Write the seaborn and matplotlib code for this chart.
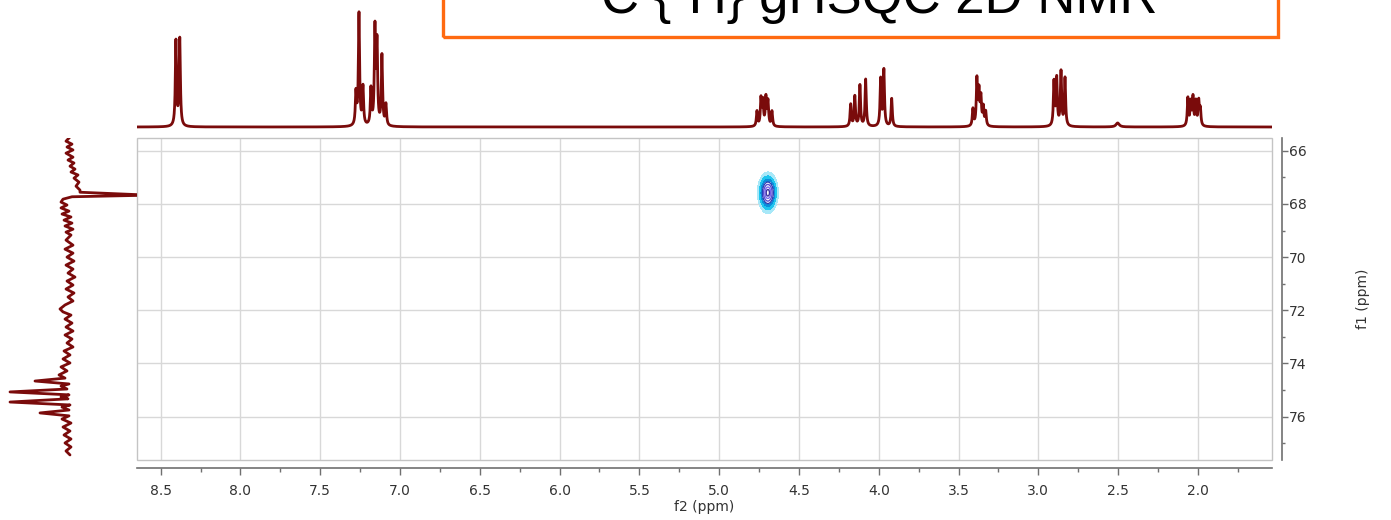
import numpy as np
import pandas as pd
import matplotlib
matplotlib.use("Agg")
import matplotlib.pyplot as plt
from matplotlib.patches import Rectangle
from matplotlib.ticker import MultipleLocator, FormatStrFormatter
import seaborn as sns

# ---------------------------------------------------------------------------
# 1H projection along f2: line positions (ppm), heights (a.u.), half widths
# ---------------------------------------------------------------------------
h_shift = [8.404, 8.380,
           7.276, 7.257, 7.232, 7.182, 7.157, 7.144, 7.113, 7.088,
           4.763, 4.738, 4.726, 4.707, 4.694, 4.669,
           4.176, 4.150, 4.118, 4.082,
           3.988, 3.968, 3.919,
           3.410, 3.385, 3.372, 3.360, 3.345, 3.330,
           2.902, 2.885, 2.858, 2.833,
           2.503,
           2.063, 2.045, 2.031, 2.013, 1.995, 1.985]
h_height = [85, 87,
            32, 112, 38, 36, 95, 80, 70, 21,
            15, 27, 24, 28, 24, 15,
            22, 30, 41, 47,
            47, 56, 28,
            17, 46, 33, 27, 18, 14,
            44, 47, 54, 48,
            4,
            28, 23, 28, 24, 24, 16]
h_hwhm = [0.0045] * 33 + [0.012] + [0.0045] * 6

# ---------------------------------------------------------------------------
# 13C projection along f1: trace read as (ppm, intensity) pairs
# ---------------------------------------------------------------------------
c_ppm = [65.48, 65.64, 65.75, 65.86, 65.97, 66.09, 66.24, 66.35, 66.46, 66.58,
         66.69, 66.80, 66.91, 67.03, 67.18, 67.33, 67.48, 67.56, 67.67, 67.73,
         67.82, 67.93, 68.04, 68.15, 68.27, 68.38, 68.49, 68.61, 68.72, 68.83,
         68.95, 69.06, 69.17, 69.36, 69.55, 69.70, 69.85, 70.00, 70.15, 70.30,
         70.45, 70.60, 70.75, 70.90, 71.05, 71.20, 71.35, 71.50, 71.65, 71.80,
         71.95, 72.06, 72.18, 72.33, 72.48, 72.63, 72.78, 72.93, 73.08, 73.23,
         73.38, 73.53, 73.68, 73.83, 73.98, 74.13, 74.28, 74.43, 74.55, 74.66,
         74.77, 74.85, 74.96, 75.07, 75.18, 75.26, 75.33, 75.45, 75.56, 75.64,
         75.75, 75.86, 75.97, 76.09, 76.24, 76.39, 76.54, 76.69, 76.84, 76.99,
         77.14, 77.29, 77.44]
c_int = [5, 1, 7, 2, 8, 1, 8, 3, 9, 5,
         10, 6, 13, 9, 14, 11, 15, 15, 85, 7,
         -2, -4, 2, -4, 4, -3, 6, -1, 7, 0,
         8, 1, 6, 1, 8, 0, 8, 2, 9, 1,
         8, 3, 10, 2, 8, 1, 9, 3, 8, 0,
         -5, -2, 6, 0, 7, 1, 8, 0, 7, 2,
         8, -1, 5, -2, 5, -4, 2, -6, 0, -30,
         4, -4, 2, -55, 4, -4, 3, -55, 5, -3,
         4, -25, 4, -3, 6, -2, 5, -1, 6, 0,
         6, 1, 5]

# HSQC correlation: (f2, f1) centre and widths in ppm
cross_f2 = [4.695]
cross_f1 = [67.58]
cross_sd_f2 = [0.027]
cross_sd_f1 = [0.32]

f2_ticks = [8.5, 8.0, 7.5, 7.0, 6.5, 6.0, 5.5, 5.0, 4.5, 4.0, 3.5, 3.0, 2.5, 2.0]
f1_ticks = [66, 68, 70, 72, 74, 76]

F2_LIM = (8.648, 1.536)
F1_LIM = (77.63, 65.52)
TRACE = "#7a0b0b"
AXC = "#707070"
TXT = "#333333"

sns.set_style("white")
plt.rcParams["font.family"] = ["DejaVu Sans"]

W, H = 1391, 520
fig = plt.figure(figsize=(W / 100, H / 100), dpi=100)


def px_rect(l, t, r, b):
    return [l / W, 1 - b / H, (r - l) / W, (b - t) / H]


ax = fig.add_axes(px_rect(137, 138, 1272, 460))
ax_top = fig.add_axes(px_rect(137, 0, 1272, 133))
ax_left = fig.add_axes(px_rect(0, 138, 137, 460))

# --- 1D proton trace on top ---
f2_grid = np.arange(F2_LIM[1], F2_LIM[0], 0.0004)
h_trace = np.zeros_like(f2_grid)
for s, hgt, g in zip(h_shift, h_height, h_hwhm):
    h_trace += hgt / (1 + ((f2_grid - s) / g) ** 2)
top_df = pd.DataFrame({"f2": f2_grid, "intensity": h_trace})
sns.lineplot(data=top_df, x="f2", y="intensity", ax=ax_top, color=TRACE,
             linewidth=2.0, estimator=None, sort=False)
ax_top.set_xlim(*F2_LIM)
ax_top.set_ylim(-6, 127)
ax_top.axis("off")

# --- 1D carbon trace on the left ---
left_df = pd.DataFrame({"f1": c_ppm, "intensity": c_int})
sns.lineplot(data=left_df, x="intensity", y="f1", ax=ax_left, color=TRACE,
             linewidth=2.0, estimator=None, sort=False, orient="y")
ax_left.set_xlim(-65, 72)
ax_left.set_ylim(*F1_LIM)
ax_left.axis("off")

# --- 2D HSQC map ---
g2 = np.linspace(4.45, 4.95, 260)
g1 = np.linspace(66.0, 69.3, 260)
X, Y = np.meshgrid(g2, g1)
Z = np.zeros_like(X)
for c2, c1, s2, s1 in zip(cross_f2, cross_f1, cross_sd_f2, cross_sd_f1):
    Z += np.exp(-0.5 * (((X - c2) / s2) ** 2 + ((Y - c1) / s1) ** 2))
ax.contourf(X, Y, Z, levels=[0.05, 0.14, 0.28, 0.45, 1.01],
            colors=["#a8e8f8", "#1ec4ee", "#0a8edb", "#ffffff"], zorder=3)
ax.contour(X, Y, Z, levels=[0.45, 0.62, 0.8, 0.93],
           colors=["#2a3fb5", "#5a4fd0", "#7b68ee", "#3b2fa0"],
           linewidths=1.0, zorder=4)

ax.set_xlim(*F2_LIM)
ax.set_ylim(*F1_LIM)
ax.set_xticks(f2_ticks)
ax.xaxis.set_minor_locator(MultipleLocator(0.25))
ax.xaxis.set_major_formatter(FormatStrFormatter("%.1f"))
ax.set_yticks(f1_ticks)
ax.yaxis.set_minor_locator(MultipleLocator(1))
ax.yaxis.tick_right()
ax.grid(True, which="major", color="#d8d8d8", linewidth=1.0, zorder=0)
ax.set_axisbelow(True)

for side in ("top", "left"):
    ax.spines[side].set_visible(False)
for side, off in (("bottom", 6), ("right", 7)):
    ax.spines[side].set_visible(True)
    ax.spines[side].set_color(AXC)
    ax.spines[side].set_linewidth(1.2)
    ax.spines[side].set_position(("outward", off))

ax.add_patch(Rectangle((0, 0), 1, 1, transform=ax.transAxes, fill=False,
                       edgecolor="#c4c4c4", linewidth=1.0, clip_on=False,
                       zorder=1))

ax.tick_params(axis="x", which="major", direction="out", length=5, width=1,
               color=AXC, labelsize=10, labelcolor=TXT, pad=6,
               bottom=True, top=False)
ax.tick_params(axis="x", which="minor", direction="out", length=3, width=1,
               color=AXC, bottom=True, top=False)
ax.tick_params(axis="y", which="major", direction="out", length=4, width=1,
               color=AXC, labelsize=10, labelcolor=TXT, pad=1,
               left=False, right=True, labelleft=False, labelright=True)
ax.tick_params(axis="y", which="minor", direction="out", length=2, width=1,
               color=AXC, left=False, right=True)

ax.set_xlabel("f2 (ppm)", fontsize=10, color=TXT)
ax.xaxis.set_label_coords(0.5, -0.125)
ax.set_ylabel("f1 (ppm)", fontsize=10, color=TXT, rotation=90)
ax.yaxis.set_label_position("right")
ax.yaxis.set_label_coords(1.074, 0.5)

# --- framed title ---
fig.patches.append(Rectangle((443 / W, 1 - 37 / H), (1278 - 443) / W, 60 / H,
                             transform=fig.transFigure, fill=False,
                             edgecolor="#ff6a10", linewidth=2.4))
fig.text(1158 / W, 1 - 13 / H, "¹³C {¹H} gHSQC 2D NMR", ha="right",
         va="baseline", fontsize=38, family=["Liberation Sans", "DejaVu Sans"],
         color="black")

fig.savefig("out.png", dpi=100)
